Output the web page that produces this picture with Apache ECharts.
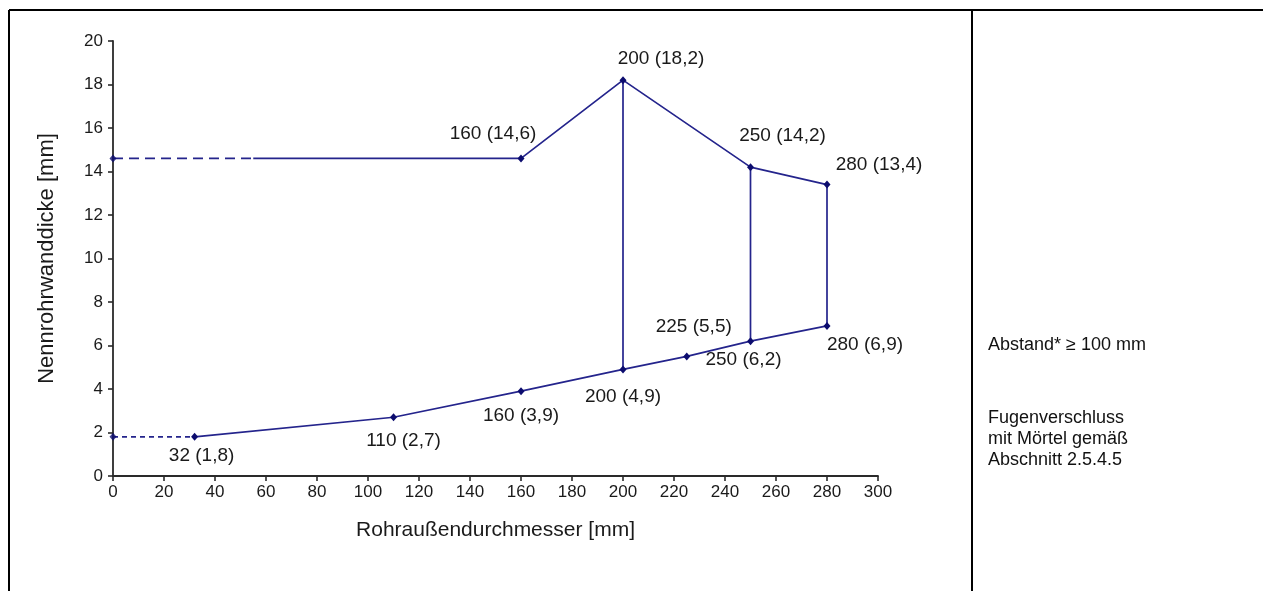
<!DOCTYPE html>
<html>
<head>
<meta charset="utf-8">
<script src="https://cdn.jsdelivr.net/npm/echarts@6/dist/echarts.min.js"></script>
<style>
html,body{margin:0;padding:0;background:#fff;}
#chart{width:1263px;height:591px;}
</style>
</head>
<body>
<div id="chart"></div>
<script>
// ---- data ----
var xTicks = [0, 20, 40, 60, 80, 100, 120, 140, 160, 180, 200, 220, 240, 260, 280, 300];
var yTicks = [0, 2, 4, 6, 8, 10, 12, 14, 16, 18, 20];
var upperX = [160, 200, 250, 280];
var upperY = [14.6, 18.2, 14.2, 13.4];
var lowerX = [32, 110, 160, 200, 225, 250, 280];
var lowerY = [1.8, 2.7, 3.9, 4.9, 5.5, 6.2, 6.9];
var upperDashX = [0, 55];
var upperDashY = [14.6, 14.6];
var upperSolidExtX = [55, 160];
var upperSolidExtY = [14.6, 14.6];
var lowerDashX = [0, 32];
var lowerDashY = [1.8, 1.8];
var verticalX = [200, 250, 280];
var verticalLow = [4.9, 6.2, 6.9];
var verticalHigh = [18.2, 14.2, 13.4];
var xAxisName = 'Rohraußendurchmesser [mm]';
var yAxisName = 'Nennrohrwanddicke [mm]';
var noteLine1 = 'Abstand* \u2265 100 mm';
var noteLines2 = ['Fugenverschluss', 'mit Mörtel gemäß', 'Abschnitt 2.5.4.5'];

// label offsets (style only)
var upperOffsets = [[-28, -25], [38, -21], [32, -31], [52, -20]];
var lowerOffsets = [[7, 19], [10, 23], [0, 25], [0, 27], [7, -30], [-7, 19], [38, 19]];

var LINE = '#24248c';
var MARK = '#0c0c6e';
var FONT = 'Liberation Sans, Arial, sans-serif';

function fmt(x, y) { return x + ' (' + String(y).replace('.', ',') + ')'; }
function pts(xs, ys) { return xs.map(function (x, i) { return [x, ys[i]]; }); }
function labeled(xs, ys, offs) {
  return xs.map(function (x, i) {
    return {
      value: [x, ys[i]],
      label: {
        show: true, position: 'inside', offset: offs[i],
        formatter: fmt(x, ys[i]),
        color: '#1a1a1a', fontSize: 19, fontFamily: FONT
      }
    };
  });
}

var series = [
  { type: 'line', data: pts(upperDashX, upperDashY), lineStyle: { color: LINE, width: 1.7, type: [10, 6] },
    symbol: 'none', silent: true, z: 2 },
  { type: 'line', data: pts(upperSolidExtX, upperSolidExtY), lineStyle: { color: LINE, width: 1.7 },
    symbol: 'none', silent: true, z: 2 },
  { type: 'line', data: pts(lowerDashX, lowerDashY), lineStyle: { color: LINE, width: 1.7, type: [5, 4] },
    symbol: 'none', silent: true, z: 2 },
  { type: 'line', data: labeled(upperX, upperY, upperOffsets), lineStyle: { color: LINE, width: 1.7 },
    symbol: 'diamond', symbolSize: [7, 8], itemStyle: { color: MARK }, silent: true, z: 3 },
  { type: 'line', data: labeled(lowerX, lowerY, lowerOffsets), lineStyle: { color: LINE, width: 1.7 },
    symbol: 'diamond', symbolSize: [7, 8], itemStyle: { color: MARK }, silent: true, z: 3 },
  { type: 'scatter', data: [[upperDashX[0], upperDashY[0]], [lowerDashX[0], lowerDashY[0]]],
    symbol: 'diamond', symbolSize: [7, 8], itemStyle: { color: MARK }, silent: true, z: 4 }
];
verticalX.forEach(function (x, i) {
  series.push({ type: 'line', data: [[x, verticalLow[i]], [x, verticalHigh[i]]],
    lineStyle: { color: LINE, width: 1.7 }, symbol: 'none', silent: true, z: 2 });
});

var chart = echarts.init(document.getElementById('chart'), null, { renderer: 'canvas' });
chart.setOption({
  animation: false,
  backgroundColor: '#fff',
  grid: { left: 113, right: 385, top: 41, bottom: 115, containLabel: false },
  xAxis: {
    type: 'value', min: xTicks[0], max: xTicks[xTicks.length - 1], interval: xTicks[1] - xTicks[0],
    name: xAxisName, nameLocation: 'middle', nameGap: 44,
    nameTextStyle: { color: '#1a1a1a', fontSize: 21, fontFamily: FONT },
    axisLine: { lineStyle: { color: '#2a2a2a', width: 1.8 } },
    axisTick: { show: true, length: 5, lineStyle: { color: '#2a2a2a', width: 1.6 } },
    axisLabel: { color: '#1a1a1a', fontSize: 17, fontFamily: FONT, margin: 8 },
    splitLine: { show: false }
  },
  yAxis: {
    type: 'value', min: yTicks[0], max: yTicks[yTicks.length - 1], interval: yTicks[1] - yTicks[0],
    name: yAxisName, nameLocation: 'middle', nameGap: 55, nameRotate: 90,
    nameTextStyle: { color: '#1a1a1a', fontSize: 22, fontFamily: FONT },
    axisLine: { show: true, lineStyle: { color: '#2a2a2a', width: 1.8 } },
    axisTick: { show: true, length: 5, lineStyle: { color: '#2a2a2a', width: 1.6 } },
    axisLabel: { color: '#1a1a1a', fontSize: 17, fontFamily: FONT, margin: 10 },
    splitLine: { show: false }
  },
  graphic: [
    { type: 'line', shape: { x1: 9, y1: 10, x2: 1263, y2: 10 }, style: { stroke: '#000', lineWidth: 2 } },
    { type: 'line', shape: { x1: 9, y1: 10, x2: 9, y2: 591 }, style: { stroke: '#000', lineWidth: 2 } },
    { type: 'line', shape: { x1: 972, y1: 10, x2: 972, y2: 591 }, style: { stroke: '#000', lineWidth: 2 } },
    { type: 'text', left: 988, top: 336, style: { text: noteLine1, fill: '#111', font: '18px ' + FONT } },
    { type: 'text', left: 988, top: 408, style: { text: noteLines2.join('\n'), fill: '#111', font: '18px ' + FONT, lineHeight: 21 } }
  ],
  series: series
});
</script>
</body>
</html>
